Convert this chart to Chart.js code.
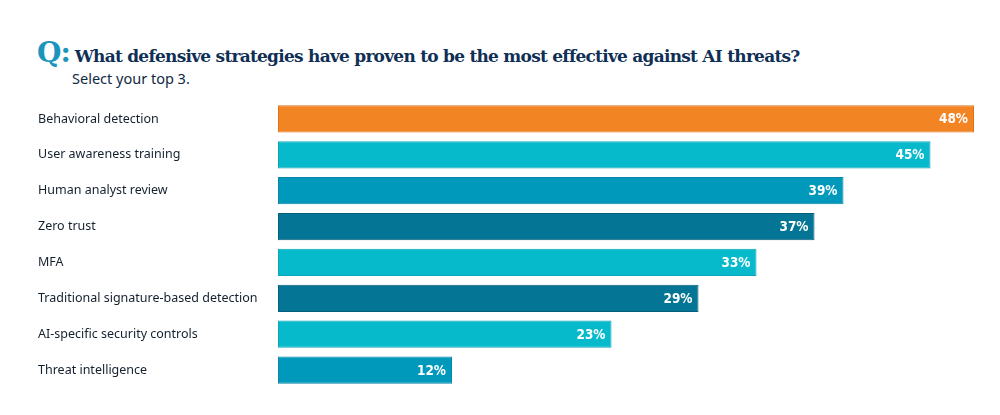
<!DOCTYPE html>
<html lang="en">
<head>
    <meta charset="UTF-8">
    <title>Defensive strategies against AI threats</title>
    <script src="https://cdn.jsdelivr.net/npm/chart.js"></script>
    <style>
        * {
            margin: 0;
            padding: 0;
            box-sizing: border-box;
        }

        body {
            width: 1000px;
            height: 415px;
            background: #fff;
            position: relative;
            overflow: hidden;
        }

        .heading {
            position: absolute;
            left: 37px;
            top: 36px;
            color: #0f2f55;
        }

        .heading .q {
            font-family: 'DejaVu Serif', serif;
            font-weight: bold;
            font-size: 28px;
            color: #1a96bd;
            letter-spacing: -1px;
            margin-right: 5px;
        }

        .heading .question {
            font-family: 'DejaVu Serif', serif;
            font-weight: bold;
            font-size: 17px;
            letter-spacing: -0.75px;
        }

        .sub {
            position: absolute;
            left: 72px;
            top: 68px;
            font-family: 'Noto Sans', sans-serif;
            font-size: 14.5px;
            color: #102a45;
        }

        #chart {
            position: absolute;
            left: 0;
            top: 0;
        }
    </style>
</head>
<body>
    <div class="heading"><span class="q">Q:</span><span class="question">What defensive strategies have proven to be the most effective against AI threats?</span></div>
    <div class="sub">Select your top 3.</div>

    <canvas id="chart" width="1000" height="415"></canvas>

    <script>
        // Survey answers, top to bottom
        const strategies = [
            'Behavioral detection',
            'User awareness training',
            'Human analyst review',
            'Zero trust',
            'MFA',
            'Traditional signature-based detection',
            'AI-specific security controls',
            'Threat intelligence'
        ];
        const percents = [48, 45, 39, 37, 33, 29, 23, 12];
        const barColors = ['#f28423', '#06bacc', '#0098bb', '#047594', '#06bacc', '#047594', '#06bacc', '#0098bb'];
        const edgeColors = ['#e0701a', '#0aa6b8', '#0a86a8', '#045f7c', '#0aa6b8', '#045f7c', '#0aa6b8', '#0a86a8'];

        // Writes the percentage inside the end of each bar
        const valueLabels = {
            id: 'valueLabels',
            afterDatasetsDraw(chart) {
                const ctx = chart.ctx;
                const meta = chart.getDatasetMeta(0);
                ctx.save();
                ctx.font = 'bold 13.5px "DejaVu Sans Condensed", "DejaVu Sans", sans-serif';
                ctx.fillStyle = '#fff';
                ctx.textAlign = 'right';
                ctx.textBaseline = 'middle';
                meta.data.forEach((bar, i) => {
                    ctx.fillText(percents[i] + '%', bar.x - 6, bar.y + 1);
                });
                ctx.restore();
            }
        };

        new Chart(document.getElementById('chart'), {
            type: 'bar',
            data: {
                labels: strategies,
                datasets: [{
                    data: percents,
                    backgroundColor: barColors,
                    borderColor: edgeColors,
                    borderWidth: 1,
                    borderSkipped: false,
                    categoryPercentage: 1,
                    barPercentage: 0.76
                }]
            },
            options: {
                indexAxis: 'y',
                responsive: false,
                animation: false,
                layout: {
                    padding: { left: 38, right: 26, top: 101, bottom: 27 }
                },
                scales: {
                    x: {
                        display: false,
                        min: 0,
                        max: 48
                    },
                    y: {
                        grid: { display: false },
                        border: { display: false },
                        ticks: {
                            crossAlign: 'far',
                            color: '#14202e',
                            font: { family: 'Noto Sans', size: 12.5 }
                        },
                        afterFit(scale) {
                            scale.width = 240;
                        }
                    }
                },
                plugins: {
                    legend: { display: false },
                    tooltip: { enabled: false }
                }
            },
            plugins: [valueLabels]
        });
    </script>
</body>
</html>
